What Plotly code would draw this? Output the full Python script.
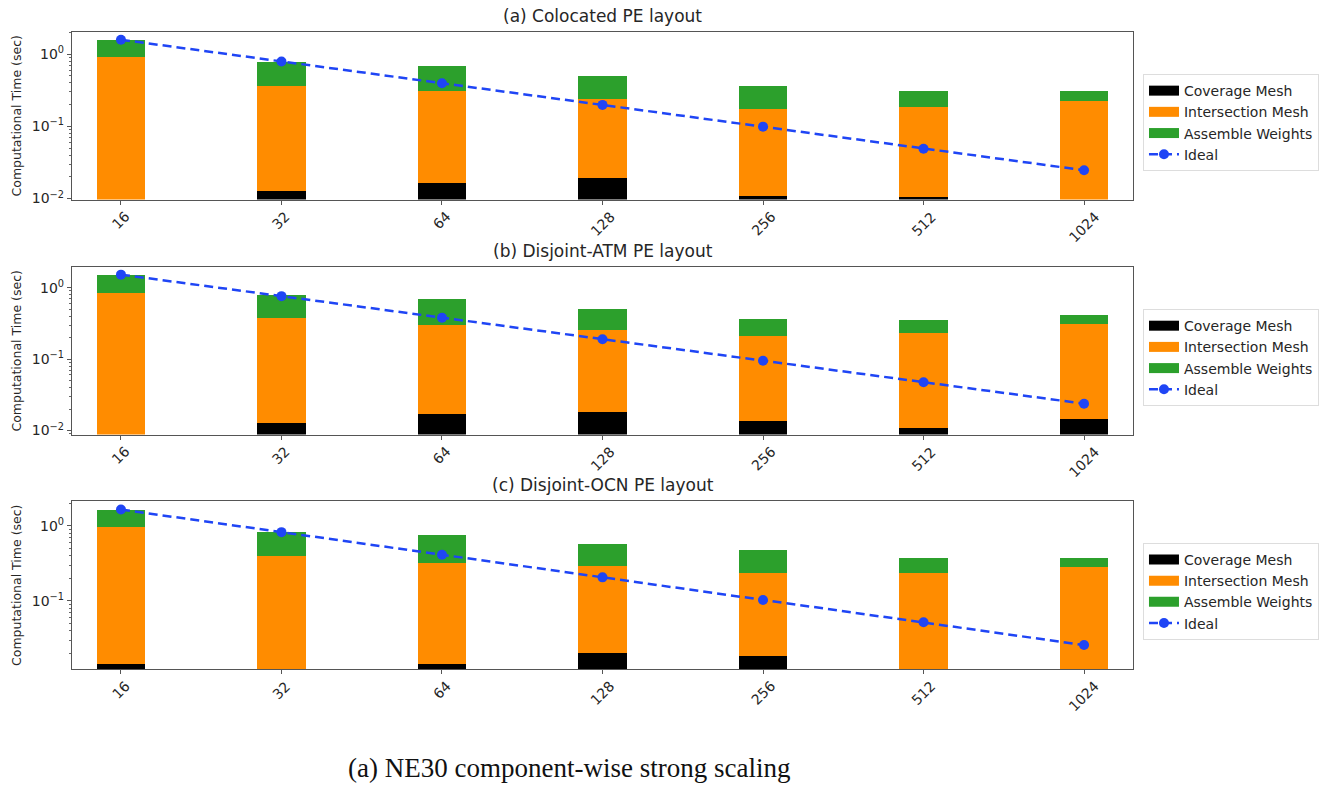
import plotly.graph_objects as go
from plotly.subplots import make_subplots

# Number of processes (x categories)
procs = ["16", "32", "64", "128", "256", "512", "1024"]

# (a) Colocated PE layout
coverage_a = [0.008, 0.0127, 0.0163, 0.0194, 0.0107, 0.0105, 0.008]
intersection_a = [0.90, 0.347, 0.290, 0.221, 0.165, 0.176, 0.217]
assemble_a = [0.68, 0.41, 0.384, 0.26, 0.187, 0.124, 0.088]
ideal_a = [1.58, 0.79, 0.395, 0.198, 0.099, 0.049, 0.0247]

# (b) Disjoint-ATM PE layout
coverage_b = [0.008, 0.0129, 0.017, 0.018, 0.0138, 0.0108, 0.0144]
intersection_b = [0.84, 0.363, 0.287, 0.241, 0.194, 0.221, 0.299]
assemble_b = [0.67, 0.424, 0.396, 0.251, 0.156, 0.117, 0.097]
ideal_b = [1.52, 0.76, 0.38, 0.19, 0.095, 0.0475, 0.0238]

# (c) Disjoint-OCN PE layout
coverage_c = [0.0143, 0.010, 0.0146, 0.0205, 0.0185, 0.010, 0.010]
intersection_c = [0.946, 0.39, 0.31, 0.273, 0.214, 0.229, 0.269]
assemble_c = [0.69, 0.43, 0.425, 0.287, 0.238, 0.135, 0.095]
ideal_c = [1.65, 0.825, 0.413, 0.206, 0.103, 0.052, 0.0258]

titles = ["(a) Colocated PE layout", "(b) Disjoint-ATM PE layout", "(c) Disjoint-OCN PE layout"]
panels = [
    (coverage_a, intersection_a, assemble_a, ideal_a),
    (coverage_b, intersection_b, assemble_b, ideal_b),
    (coverage_c, intersection_c, assemble_c, ideal_c),
]
y_ranges = [(-2.013, 0.305), (-2.056, 0.288), (-1.907, 0.325)]
y_domains = [(0.737, 1.0), (0.368, 0.631), (0.0, 0.263)]
legend_tops = [0.934, 0.565, 0.198]

C_COV = "#000000"
C_INT = "#ff8c00"
C_ASM = "#2ca02c"
C_IDEAL = "#1f45f5"
TXT = "#262626"
FONT = "DejaVu Sans"

fig = make_subplots(rows=3, cols=1)

minor_vals = [m * 10 ** e for e in (-3, -2, -1, 0) for m in range(2, 10)]
series = [("Coverage Mesh", C_COV), ("Intersection Mesh", C_INT), ("Assemble Weights", C_ASM)]

for i, (cov, inter, asm, ideal) in enumerate(panels):
    r = i + 1
    lg = "legend" if i == 0 else f"legend{i + 1}"
    xref = "x" if i == 0 else f"x{r}"

    # wide patch-style legend keys for the stacked components
    for name, col in series:
        fig.add_trace(go.Scatter(x=[None], y=[None], mode="lines", name=name,
                                 line=dict(color=col, width=10), legend=lg,
                                 hoverinfo="skip"), row=r, col=1)

    for (name, col), vals in zip(series, (cov, inter, asm)):
        fig.add_trace(go.Bar(x=procs, y=vals, name=name, marker_color=col,
                             marker_line_width=0, width=0.3, showlegend=False), row=r, col=1)

    fig.add_trace(go.Scatter(x=procs, y=ideal, name="Ideal", mode="lines+markers",
                             line=dict(color=C_IDEAL, width=2.5, dash="9px,5px"),
                             marker=dict(color=C_IDEAL, size=10), legend=lg), row=r, col=1)

    xa = "xaxis" if i == 0 else f"xaxis{r}"
    ya = "yaxis" if i == 0 else f"yaxis{r}"
    fig.layout[xa].update(
        type="category", range=[-0.305, 6.305], showgrid=False, zeroline=False,
        showline=True, mirror=True, linecolor="#555", linewidth=1.3,
        ticks="outside", ticklen=4, tickcolor="#555", showticklabels=False,
    )
    fig.layout[ya].update(
        type="log", range=list(y_ranges[i]), domain=list(y_domains[i]),
        showgrid=False, zeroline=False, showline=True, mirror=True,
        linecolor="#555", linewidth=1.3, ticks="outside", ticklen=4, tickcolor="#555",
        tickvals=[0.01, 0.1, 1], ticktext=["10<sup>\u22122</sup>", "10<sup>\u22121</sup>", "10<sup>0</sup>"],
        tickfont=dict(family=FONT, size=14, color=TXT),
        minor=dict(tickvals=minor_vals, ticks="outside", ticklen=2, tickcolor="#666"),
        title=dict(text="Computational Time (sec)", font=dict(family=FONT, size=12.5, color=TXT), standoff=7),
    )

    # rotated category labels centred under each tick (category index on the x axis)
    for j, p in enumerate(procs):
        fig.add_annotation(text=p, x=j, xref=xref, y=y_domains[i][0], yref="paper",
                           xanchor="center", yanchor="top", yshift=-6, textangle=-45,
                           showarrow=False, font=dict(family=FONT, size=14, color=TXT))

    fig.add_annotation(text=titles[i], xref="paper", yref="paper", x=0.5,
                       y=y_domains[i][1], yanchor="bottom", yshift=4, showarrow=False,
                       font=dict(family=FONT, size=17, color=TXT))
    fig.layout[lg] = dict(
        x=1.0094, y=legend_tops[i], xanchor="left", yanchor="top",
        bgcolor="white", bordercolor="#dddddd", borderwidth=1,
        traceorder="normal", font=dict(family=FONT, size=14, color=TXT),
        itemwidth=30,
    )

fig.add_annotation(text="(a) NE30 component-wise strong scaling", xref="paper", yref="paper",
                   x=(570 - 72) / (1135 - 72), y=(668.7 - 768) / 637, yanchor="middle",
                   showarrow=False, font=dict(family="Liberation Serif", size=27, color="#111"))

fig.update_layout(
    width=1331, height=785, barmode="stack", bargap=0.7,
    margin=dict(l=72, r=196, t=32, b=116),
    plot_bgcolor="white", paper_bgcolor="white",
    font=dict(family=FONT, color=TXT),
)

fig.write_html("out.html")
